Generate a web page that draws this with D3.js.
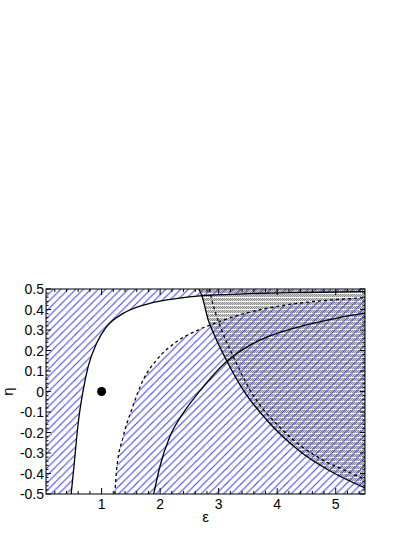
<!DOCTYPE html>
<html>
<head>
<meta charset="utf-8">
<script src="https://cdn.jsdelivr.net/npm/d3@7"></script>
<style>
  body { margin: 0; background: #fff; }
  svg { display: block; }
  text { font-family: "Liberation Sans", Arial, sans-serif; }
</style>
</head>
<body>
<svg id="chart"></svg>
<script>
// contour plot eps / eta, hatched exclusion regions

let W = 415, H = 537;
let margin = {left: 46, top: 289, right: 50, bottom: 43};

// axis ranges and tick labels
const epsRange = [0.05, 5.5];
const etaRange = [-0.5, 0.5];
const epsTicks = [1, 2, 3, 4, 5];
const etaTicks = [0.5, 0.4, 0.3, 0.2, 0.1, 0, -0.1, -0.2, -0.3, -0.4, -0.5];

// curves, [eps, eta]
const curveA = [[0.48,-0.5],[0.527,-0.367],[0.60,-0.155],[0.686,0.007],[0.77,0.121],[0.915,0.235],
  [1.085,0.316],[1.369,0.381],[1.824,0.430],[2.336,0.455],[2.68,0.466],[3.5,0.477],[4.5,0.483],[5.5,0.487]];
const curveB = [[1.227,-0.5],[1.256,-0.383],[1.369,-0.22],[1.512,-0.09],[1.71,0.056],[1.94,0.154],
  [2.28,0.243],[2.65,0.30],[3.0,0.34],[3.5,0.385],[4.0,0.415],[4.5,0.435],[5.0,0.448],[5.5,0.458]];
const curveE = [[1.89,-0.5],[1.995,-0.367],[2.166,-0.22],[2.39,-0.107],[2.68,0.003],[3.13,0.145],
  [3.5,0.22],[3.82,0.265],[4.5,0.325],[5.0,0.357],[5.5,0.382]];
const curveC = [[2.66,0.5],[2.71,0.47],[2.82,0.35],[2.95,0.26],[3.13,0.154],[3.42,0.007],
  [3.82,-0.139],[4.38,-0.29],[4.95,-0.395],[5.5,-0.47]];
const curveD = [[2.84,0.5],[2.88,0.45],[2.95,0.38],[3.05,0.30],[3.25,0.17],[3.53,0.01],
  [4.1,-0.19],[4.75,-0.33],[5.2,-0.39],[5.5,-0.43]];
const point = [1.0, 0.0];

let width = W - margin.left - margin.right;   // 319
let height = H - margin.top - margin.bottom;  // 205

let svg = d3.select("#chart").attr("width", W).attr("height", H);
let defs = svg.append("defs");

defs.append("clipPath").attr("id", "plotclip")
  .append("rect").attr("width", width).attr("height", height);

// blue diagonal hatch
let hs = 7.5;
let hatch = defs.append("pattern").attr("id", "bluehatch")
  .attr("patternUnits", "userSpaceOnUse").attr("width", hs).attr("height", hs);
hatch.append("path")
  .attr("d", `M0,${hs} L${hs},0 M-1,1 L1,-1 M${hs-1},${hs+1} L${hs+1},${hs-1}`)
  .attr("stroke", "#3c3cf0").attr("stroke-width", 1);

// gray stipple with white lines
let gray = defs.append("pattern").attr("id", "graydots")
  .attr("patternUnits", "userSpaceOnUse").attr("width", 2).attr("height", 4);
gray.append("rect").attr("width", 2).attr("height", 4).attr("fill", "#d2d2d2");
gray.append("rect").attr("y", 0).attr("width", 2).attr("height", 1).attr("fill", "#ffffff");
[[0,1],[1,2],[0,3]].forEach(p => {
  gray.append("rect").attr("x", p[0]).attr("y", p[1]).attr("width", 1).attr("height", 1).attr("fill", "#8c8c8c");
});

let x = d3.scaleLinear().domain(epsRange).range([0, width]);
let y = d3.scaleLinear().domain(etaRange).range([height, 0]);

let g = svg.append("g").attr("transform", `translate(${margin.left},${margin.top})`);
let plot = g.append("g").attr("clip-path", "url(#plotclip)");

let line = d3.line().x(d => x(d[0])).y(d => y(d[1])).curve(d3.curveMonotoneX);
let pt = (e, h) => `${x(e)},${y(h)}`;

// gray region right of C
plot.append("path")
  .attr("d", line(curveC) + `L${pt(5.5, 0.5)}Z`)
  .attr("fill", "url(#graydots)");

// hatch above / left of A
plot.append("path")
  .attr("d", line(curveA) + `L${pt(5.5, 0.5)}L${pt(epsRange[0], 0.5)}L${pt(epsRange[0], -0.5)}Z`)
  .attr("fill", "url(#bluehatch)");

// hatch below / right of B
plot.append("path")
  .attr("d", line(curveB) + `L${pt(5.5, -0.5)}Z`)
  .attr("fill", "url(#bluehatch)");

let curves = [
  {d: curveA, dash: null},
  {d: curveB, dash: "3,3"},
  {d: curveE, dash: null},
  {d: curveC, dash: null},
  {d: curveD, dash: "3,3"}
];
plot.selectAll(".curve")
  .data(curves)
  .enter()
  .append("path")
  .attr("class", "curve")
  .attr("d", c => line(c.d))
  .attr("fill", "none")
  .attr("stroke", "#000")
  .attr("stroke-width", 1.3)
  .attr("stroke-dasharray", c => c.dash);

plot.append("circle")
  .attr("cx", x(point[0])).attr("cy", y(point[1])).attr("r", 4.5)
  .attr("fill", "#000");

// ticks on all four sides, pointing in
let xMinor = d3.range(0.2, 5.5, 0.2).map(v => Math.round(v * 10) / 10);
let yMinor = d3.range(-0.5, 0.501, 0.02).map(v => Math.round(v * 100) / 100);

let ticks = g.append("g").attr("stroke", "#000").attr("stroke-width", 1);
xMinor.forEach(v => {
  let major = epsTicks.includes(v);
  let len = major ? 6 : 3;
  ticks.append("line").attr("x1", x(v)).attr("x2", x(v)).attr("y1", height).attr("y2", height - len);
  ticks.append("line").attr("x1", x(v)).attr("x2", x(v)).attr("y1", 0).attr("y2", len);
});
yMinor.forEach(v => {
  let major = Math.abs(v * 10 - Math.round(v * 10)) < 1e-6;
  let len = major ? 5 : 2.5;
  ticks.append("line").attr("x1", 0).attr("x2", len).attr("y1", y(v)).attr("y2", y(v));
  ticks.append("line").attr("x1", width).attr("x2", width - len).attr("y1", y(v)).attr("y2", y(v));
});

g.append("rect")
  .attr("width", width).attr("height", height)
  .attr("fill", "none").attr("stroke", "#000").attr("stroke-width", 1);

// tick labels
g.selectAll(".xlab")
  .data(epsTicks)
  .enter()
  .append("text")
  .attr("x", d => x(d))
  .attr("y", height + 15)
  .attr("text-anchor", "middle")
  .attr("font-size", 14)
  .text(d => d);

g.selectAll(".ylab")
  .data(etaTicks)
  .enter()
  .append("text")
  .attr("x", -2)
  .attr("y", d => y(d) + 5)
  .attr("text-anchor", "end")
  .attr("font-size", 14)
  .text(d => d3.format("")(Math.round(d * 10) / 10).replace("−", "-"));

// axis titles
svg.append("text")
  .attr("x", margin.left + width / 2)
  .attr("y", 522)
  .attr("text-anchor", "middle")
  .attr("font-size", 15)
  .text("ε");

svg.append("text")
  .attr("transform", `translate(13,${margin.top + height / 2}) rotate(-90)`)
  .attr("text-anchor", "middle")
  .attr("font-size", 15)
  .text("η");
</script>
</body>
</html>
